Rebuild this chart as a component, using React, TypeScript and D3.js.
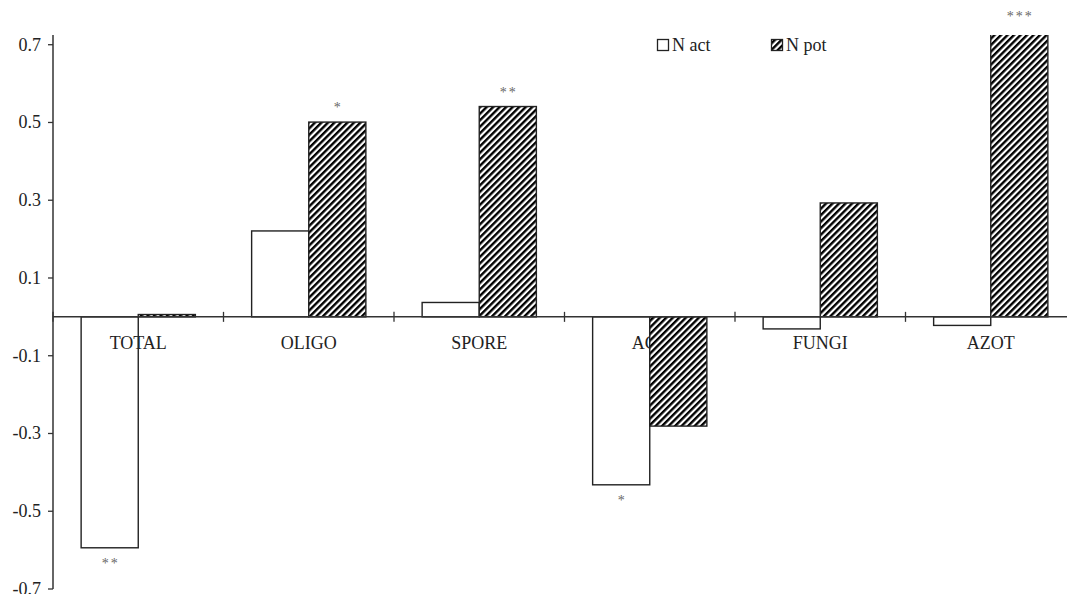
import React from 'react'
import * as d3 from 'd3';

const categories = ['TOTAL', 'OLIGO', 'SPORE', 'ACT', 'FUNGI', 'AZOT'];
const series = ['N act', 'N pot'];
const nAct = [-0.594, 0.221, 0.037, -0.432, -0.031, -0.022];
const nPot = [0.006, 0.501, 0.541, -0.281, 0.293, 0.735];
// significance marks per bar, '' when none
const nActStars = ['**', '', '', '*', '', ''];
const nPotStars = ['', '*', '**', '', '', '***'];
const yTicks = [-0.7, -0.5, -0.3, -0.1, 0.1, 0.3, 0.5, 0.7];

const W = 1067;
const H = 594;
const FONT = "'Liberation Serif', 'Times New Roman', Times, 'DejaVu Serif', serif";

const App = () => {
  const y = d3.scaleLinear().domain([-0.7, 0.725]).range([589, 35]);
  const x0 = d3.scaleBand().domain(categories).range([53, 1076]).padding(0);
  const bw = x0.bandwidth();
  const x1 = d3.scaleBand().domain(series).range([bw * 0.165, bw * 0.835]).padding(0);

  const rows = categories.map((c, i) => ({
    cat: c,
    vals: [
      { s: series[0], v: nAct[i], stars: nActStars[i] },
      { s: series[1], v: nPot[i], stars: nPotStars[i] },
    ],
  }));

  const y0 = y(0);
  const bounds = d3.range(categories.length + 1).map(i => 53 + i * bw);

  const barRect = (cat: string, s: string, v: number) => {
    const bx = (x0(cat) || 0) + (x1(s) || 0);
    const top = Math.min(y(v), y0);
    const h = Math.abs(y(v) - y0);
    return { x: bx, y: top, w: x1.bandwidth(), h };
  };

  const txt = { fontFamily: FONT };

  return (
    <svg width={W} height={H} style={{ position: 'absolute', left: 0, top: 0, background: '#fff', fontFamily: FONT }}>
      <defs>
        <pattern id='hatch' patternUnits='userSpaceOnUse' width={4.6} height={4.6} patternTransform='rotate(45)'>
          <rect x={0} y={0} width={4.6} height={4.6} fill='#fff' />
          <rect x={0} y={0} width={2.4} height={4.6} fill='#000' />
        </pattern>
        <clipPath id='plotClip'>
          <rect x={0} y={35} width={W} height={H - 35} />
        </clipPath>
      </defs>

      {/* N act bars (outline only) */}
      <g clipPath='url(#plotClip)'>
        {rows.map(r => {
          const b = barRect(r.cat, series[0], r.vals[0].v);
          return <rect key={r.cat} x={b.x} y={b.y} width={b.w} height={b.h} fill='none' stroke='#222' strokeWidth={1.4} />;
        })}
      </g>

      {/* category labels */}
      {categories.map(c => (
        <text key={c} x={(x0(c) || 0) + bw / 2} y={349} textAnchor='middle' style={txt} fontSize={18} fill='#222'>{c}</text>
      ))}

      {/* N pot bars (hatched) */}
      <g clipPath='url(#plotClip)'>
        {rows.map(r => {
          const b = barRect(r.cat, series[1], r.vals[1].v);
          return <rect key={r.cat} x={b.x} y={b.y} width={b.w} height={b.h} fill='url(#hatch)' stroke='#222' strokeWidth={1.4} />;
        })}
      </g>

      {/* zero line and category ticks */}
      <line x1={53} x2={W} y1={y0} y2={y0} stroke='#333' strokeWidth={1.5} />
      {bounds.map((bx, i) => (
        <line key={i} x1={bx} x2={bx} y1={y0 - 5} y2={y0 + 5} stroke='#333' strokeWidth={1.3} />
      ))}

      {/* y axis */}
      <line x1={53} x2={53} y1={35} y2={589} stroke='#333' strokeWidth={1.5} />
      {yTicks.map(t => (
        <g key={t}>
          <line x1={48} x2={53} y1={y(t)} y2={y(t)} stroke='#333' strokeWidth={1.3} />
          <text x={41} y={y(t) + 6} textAnchor='end' style={txt} fontSize={18} fill='#222'>{t.toFixed(1)}</text>
        </g>
      ))}

      {/* significance stars */}
      {rows.map(r => r.vals.map(d => {
        if (!d.stars) return null;
        const b = barRect(r.cat, d.s, d.v);
        const ty = d.v >= 0 ? b.y - 10 : b.y + b.h + 20;
        return (
          <text key={r.cat + d.s} x={b.x + b.w / 2 + 1} y={ty} textAnchor='middle' style={txt} fontSize={14} letterSpacing={2} fill='#666'>{d.stars}</text>
        );
      }))}

      {/* legend */}
      <g style={txt} fontSize={18} fill='#222'>
        <rect x={657.5} y={39.5} width={11} height={11} fill='#fff' stroke='#222' strokeWidth={1.3} />
        <text x={672} y={51}>{series[0]}</text>
        <rect x={771.5} y={39.5} width={11} height={11} fill='url(#hatch)' stroke='#222' strokeWidth={1.3} />
        <text x={786} y={51}>{series[1]}</text>
      </g>
    </svg>
  )
}

export default App
